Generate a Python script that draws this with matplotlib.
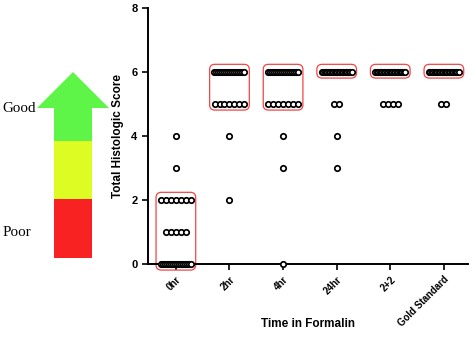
import matplotlib
matplotlib.use('Agg')
import matplotlib.pyplot as plt
import matplotlib.patches as patches
import numpy as np

plt.rcParams['font.family'] = ['Liberation Sans', 'DejaVu Sans']

# Scores per formalin time group (counts)
groups = ['0hr', '2hr', '4hr', '24hr', '2+2', 'Gold Standard']
scores = [
    [0] * 16 + [1] * 5 + [2] * 7 + [3, 4],
    [6] * 16 + [5] * 7 + [4, 2],
    [6] * 16 + [5] * 7 + [4, 3, 0],
    [6] * 22 + [5] * 2 + [4, 3],
    [6] * 22 + [5] * 4,
    [6] * 22 + [5] * 2,
]
# score range enclosed by the red box in each group
box_ranges = [(0, 2), (5, 6), (5, 6), (6, 6), (6, 6), (6, 6)]

W, H = 472, 337
fig = plt.figure(figsize=(W / 100, H / 100), dpi=100)

# background axes in pixel units for the quality arrow
bg = fig.add_axes([0, 0, 1, 1])
bg.set_xlim(0, W)
bg.set_ylim(H, 0)
bg.axis('off')
bg.add_patch(patches.Polygon([(73, 72), (37, 108), (109, 108)], closed=True,
                             facecolor='#5ef548', edgecolor='none'))
bg.add_patch(patches.Rectangle((54, 108), 38, 33, facecolor='#5ef548', edgecolor='none'))
bg.add_patch(patches.Rectangle((54, 141), 38, 58, facecolor='#dcfc24', edgecolor='none'))
bg.add_patch(patches.Rectangle((54, 199), 38, 59, facecolor='#f82222', edgecolor='none'))
bg.text(2, 108, 'Good', family='Liberation Serif', fontsize=10.8, va='center', ha='left')
bg.text(3, 233, 'Poor', family='Liberation Serif', fontsize=10.8, va='center', ha='left')

ax = fig.add_axes([148 / W, 1 - 264 / H, 320 / W, 256 / H])
ax.patch.set_alpha(0)

for i, vals in enumerate(scores):
    vals = np.array(vals)
    for level in np.unique(vals):
        n = int(np.sum(vals == level))
        step = min(0.093, 0.56 / max(n - 1, 1))
        offs = (np.arange(n) - (n - 1) / 2) * step
        ax.plot(i + offs, [level] * n, 'o', ms=3.9, mfc='white', mec='black',
                mew=1.25, clip_on=False, zorder=3)
    lo, hi = box_ranges[i]
    box = patches.FancyBboxPatch((i - 0.37, lo - 0.19), 0.74, hi - lo + 0.43,
                                 boxstyle='round,pad=0,rounding_size=0.1',
                                 mutation_aspect=1.6, facecolor='none',
                                 edgecolor='#f24545', lw=0.9, clip_on=False, zorder=2)
    ax.add_patch(box)

ax.set_xlim(-0.52, 5.45)
ax.set_ylim(0, 8)
ax.set_yticks([0, 2, 4, 6, 8])
ax.set_xticks(range(len(groups)))
ax.set_xticklabels(groups, rotation=45, ha='right', rotation_mode='anchor',
                   fontsize=7, fontweight='bold')
for lab in ax.get_yticklabels():
    lab.set_fontweight('bold')
    lab.set_fontsize(8)
for s in ['top', 'right']:
    ax.spines[s].set_visible(False)
for s in ['left', 'bottom']:
    ax.spines[s].set_linewidth(1.4)
ax.tick_params(width=1.2, length=4, direction='out')
ax.set_ylabel('Total Histologic Score', fontsize=8.5, fontweight='bold', labelpad=5)
ax.set_xlabel('Time in Formalin', fontsize=8.5, fontweight='bold')
ax.xaxis.set_label_coords(0.5, -(324 - 264) / 256)
ax.xaxis.label.set_va('center')

fig.savefig('out.png', dpi=100, facecolor='white')
